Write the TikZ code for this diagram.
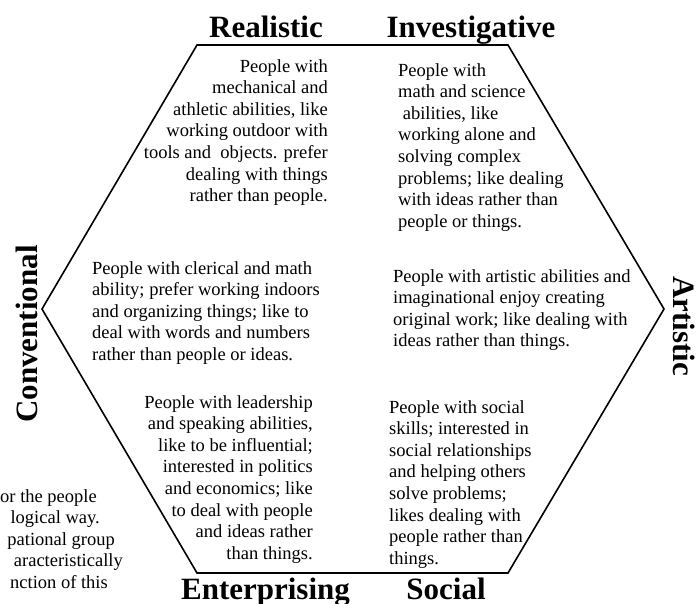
\documentclass[tikz,border=0pt]{standalone}
\usepackage{fontspec}
\setmainfont{Liberation Serif}
\begin{document}
\begin{tikzpicture}[x=1pt,y=-1pt,
  heading/.style={font=\fontsize{31}{36}\selectfont\bfseries, inner sep=0pt},
  bodyleft/.style={font=\fontsize{18.5}{21.6}\selectfont, align=left, inner sep=0pt, anchor=base west},
  bodyright/.style={font=\fontsize{18.5}{21.6}\selectfont, align=right, inner sep=0pt, anchor=base east},
  marginline/.style={font=\fontsize{18.5}{21.6}\selectfont, inner sep=0pt, anchor=base east},
  hexline/.style={line width=1.6pt, line join=miter}]
\useasboundingbox (0,0) rectangle (696,603);

% hexagon corners
\coordinate (tl) at (197,45);
\coordinate (tr) at (508,45);
\coordinate (r)  at (664,309);
\coordinate (br) at (508,573);
\coordinate (bl) at (197,573);
\coordinate (l)  at (42,309);
\draw[hexline] (tl) -- (tr) -- (r) -- (br) -- (bl) -- (l) -- cycle;

% type names
\node[heading, anchor=base] (hR) at (266,37) {Realistic};
\node[heading, anchor=base] (hI) at (471,37) {Investigative};
\node[heading, anchor=base] (hE) at (265.5,599) {Enterprising};
\node[heading, anchor=base] (hS) at (446,599) {Social};
\node[heading, anchor=base, rotate=90] (hC) at (37,334) {Conventional};
\node[heading, anchor=base, rotate=-90] (hA) at (673,326) {Artistic};

% descriptions (each node is placed by the baseline of its last line)
\node[bodyright] (dR) at (328,201.6) {People with\\mechanical and\\athletic abilities, like\\working outdoor with\\tools and\ \ objects. prefer\\dealing with things\\rather than people.};
\node[bodyleft] (dI) at (398,227.2) {People with\\math and science\\\ abilities, like\\working alone and\\solving complex\\problems; like dealing\\with ideas rather than\\people or things.};
\node[bodyleft] (dC) at (92,360.4) {People with clerical and math\\ability; prefer working indoors\\and organizing things; like to\\deal with words and numbers\\rather than people or ideas.};
\node[bodyleft] (dA) at (393,346.8) {People with artistic abilities and\\imaginational enjoy creating\\original work; like dealing with\\ideas rather than things.};
\node[bodyright] (dE) at (313,559.2) {People with leadership\\and speaking abilities,\\like to be influential;\\interested in politics\\and economics; like\\to deal with people\\and ideas rather\\than things.};
\node[bodyleft] (dS) at (389,564.2) {People with social\\skills; interested in\\social relationships\\and helping others\\solve problems;\\likes dealing with\\people rather than\\things.};

% running text at the left margin
\node[marginline] (m1) at (97,502) {or the people};
\node[marginline] (m2) at (100,523.5) {logical way.};
\node[marginline] (m3) at (115,545) {pational group};
\node[marginline] (m4) at (123,566.5) {aracteristically};
\node[marginline] (m5) at (108,588) {nction of this};
\end{tikzpicture}
\end{document}
